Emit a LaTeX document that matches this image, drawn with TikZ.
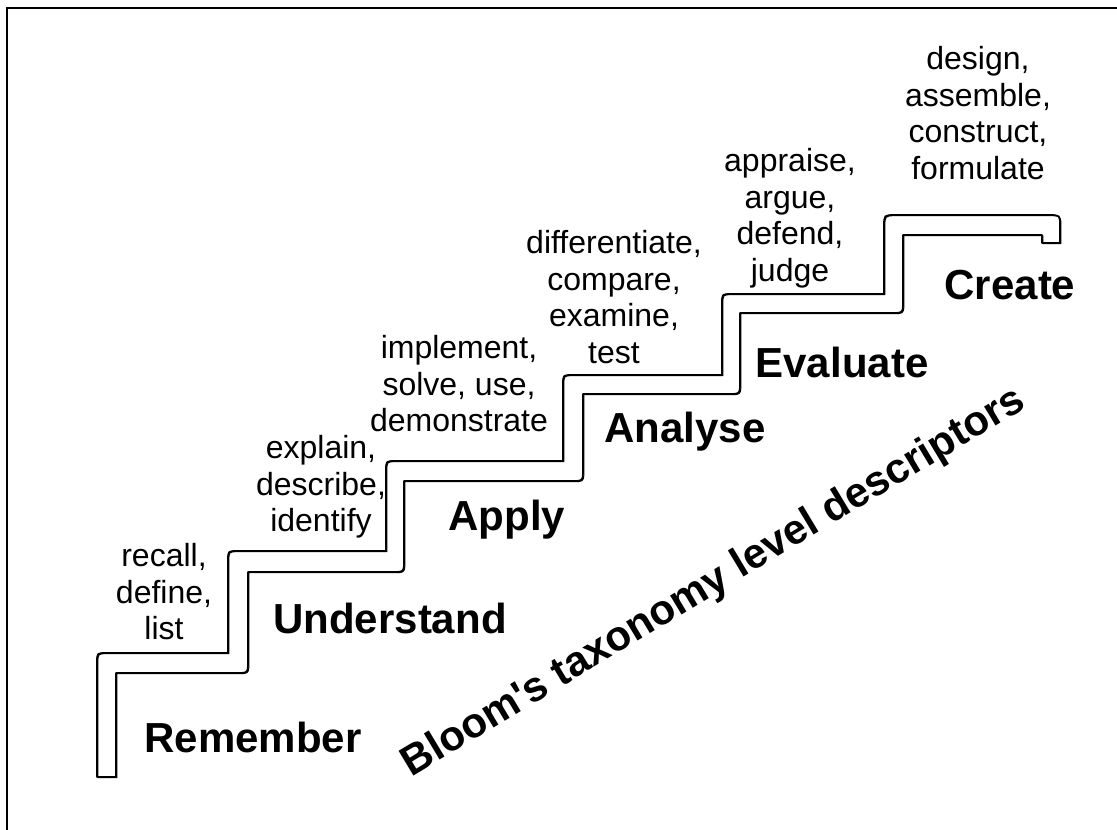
\documentclass[tikz,border=0pt]{standalone}
\usepackage{fontspec}
\setmainfont{Liberation Sans}
\begin{document}
\begin{tikzpicture}[x=1pt,y=-1pt,
  words/.style={align=center,font=\fontsize{32}{36.5}\selectfont,inner sep=0pt},
  level/.style={font=\fontsize{42}{48}\selectfont\bfseries,inner sep=0pt},
  stairline/.style={line join=round,line cap=round}]
\useasboundingbox (0,0) rectangle (1117,830);
% outer frame (only its top and left edges fall inside the page)
\begin{scope}
  \clip (0,0) rectangle (1117,830);
  \draw[line width=2.6] (7,8) rectangle (1140,860);
\end{scope}
% the staircase band, stroked twice for a hand-drawn feel
\foreach \dx/\dy/\w in {0/0/1.7,0.9/0.7/1.0}{
\draw[stairline,line width=\w,shift={(\dx,\dy)}]
  (116,777) -- (97,777) -- (97,662) .. controls (97,653) .. (106,653)
  -- (228,653) -- (228,560) .. controls (228,551) .. (237,551)
  -- (386,551) -- (386,470) .. controls (386,461) .. (395,461)
  -- (563,461) -- (563,384) .. controls (563,375) .. (572,375)
  -- (722,375) -- (722,303) .. controls (722,294) .. (731,294)
  -- (884,294) -- (884,226) .. controls (884,215) .. (895,215)
  -- (1049,215) .. controls (1060,215) .. (1060,226)
  -- (1060,243) -- (1042,243) -- (1042,235)
  -- (903,235) -- (903,301) .. controls (903,313) .. (891,313)
  -- (740,313) -- (740,382) .. controls (740,394) .. (728,394)
  -- (583,394) -- (583,469) .. controls (583,481) .. (571,481)
  -- (404,481) -- (404,560) .. controls (404,572) .. (392,572)
  -- (248,572) -- (248,661) .. controls (248,673) .. (236,673)
  -- (116,673) -- cycle;
}
% level names
\node[level] (remember)   at (253,737) {Remember};
\node[level] (understand) at (390,618) {Understand};
\node[level] (apply)      at (507,520) {Apply};
\node[level] (analyse)    at (685,432) {Analyse};
\node[level] (evaluate)   at (842,362) {Evaluate};
\node[level] (create)     at (1010,285) {Create};
% descriptors above each step
\node[words] (d1) at (164,592) {recall,\\define,\\list};
\node[words] (d2) at (321,487) {explain,\\describe,\\identify};
\node[words] (d3) at (459,384) {implement,\\solve, use,\\demonstrate};
\node[words] (d4) at (614,297) {differentiate,\\compare,\\examine,\\test};
\node[words] (d5) at (790,218) {appraise,\\argue,\\defend,\\judge};
\node[words] (d6) at (978,113) {design,\\assemble,\\construct,\\formulate};
% diagonal title
\node[level,rotate=31] (title) at (714,583) {Bloom\textquotesingle s taxonomy level descriptors};
\end{tikzpicture}
\end{document}
